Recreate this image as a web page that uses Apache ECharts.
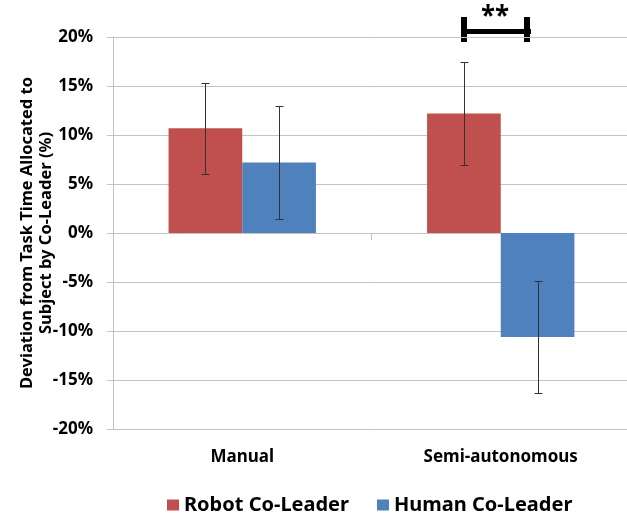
<!DOCTYPE html>
<html>
<head>
<meta charset="utf-8">
<script src="https://cdn.jsdelivr.net/npm/echarts@6/dist/echarts.min.js"></script>
<style>
  html, body { margin: 0; padding: 0; background: #fff; }
  #chart { width: 627px; height: 516px; }
</style>
</head>
<body>
<div id="chart"></div>
<script>
// Conditions and group names
const categories = ['Manual', 'Semi-autonomous'];
const seriesNames = ['Robot Co-Leader', 'Human Co-Leader'];

// Mean deviation (%) and standard error (%) per condition
const robotMean = [10.7, 12.2];
const humanMean = [7.2, -10.6];
const robotErr = [4.65, 5.3];
const humanErr = [5.75, 5.7];

// Value-axis tick range
const yMin = -20, yMax = 20, yStep = 5;

const FONT = 'Noto Sans';
const gridColor = '#c3c3c3';
const barGapPct = 0.43;

function errorData(means, errs, idx) {
  return means.map((m, i) => [i, m, errs[i], idx]);
}

function renderError(params, api) {
  const cat = api.value(0), mean = api.value(1), err = api.value(2), s = api.value(3);
  const band = api.size([1, 0])[0];
  const barW = band * (1 - barGapPct) / 2;
  const c = api.coord([cat, mean]);
  const x = Math.round(c[0] + (s === 0 ? -barW / 2 : barW / 2)) + 0.5;
  const yTop = Math.round(api.coord([cat, mean + err])[1]) + 0.5;
  const yBot = Math.round(api.coord([cat, mean - err])[1]) + 0.5;
  const cap = 4;
  const style = { stroke: '#333', lineWidth: 1 };
  return {
    type: 'group',
    children: [
      { type: 'line', shape: { x1: x, y1: yTop, x2: x, y2: yBot }, style },
      { type: 'line', shape: { x1: x - cap, y1: yTop, x2: x + cap, y2: yTop }, style },
      { type: 'line', shape: { x1: x - cap, y1: yBot, x2: x + cap, y2: yBot }, style }
    ]
  };
}

const chart = echarts.init(document.getElementById('chart'), null, { renderer: 'canvas' });

chart.setOption({
  animation: false,
  backgroundColor: '#fff',
  textStyle: { fontFamily: FONT },
  grid: { left: 113, top: 37, width: 517, height: 392, containLabel: false, outerBoundsMode: 'none' },
  legend: {
    top: 490,
    left: 162,
    icon: 'rect',
    itemWidth: 12,
    itemHeight: 11,
    itemGap: 28,
    textStyle: { fontFamily: FONT, fontWeight: 'bold', fontSize: 20, color: '#000' },
    data: seriesNames
  },
  xAxis: [
    {
      // axis line drawn at zero with separators between categories
      type: 'category',
      data: categories,
      axisLine: { onZero: true, lineStyle: { color: gridColor, width: 1 } },
      axisTick: { show: true, length: 7, alignWithLabel: false, lineStyle: { color: gridColor } },
      axisLabel: { show: false },
      splitLine: { show: false }
    },
    {
      // category labels along the bottom of the plot
      type: 'category',
      data: categories,
      position: 'bottom',
      axisLine: { show: false, onZero: false },
      axisTick: { show: false },
      axisLabel: { show: true, margin: 20, fontFamily: FONT, fontWeight: 'bold', fontSize: 17, color: '#000' }
    }
  ],
  yAxis: {
    type: 'value',
    min: yMin,
    max: yMax,
    interval: yStep,
    name: 'Deviation from Task Time Allocated to\nSubject by Co-Leader (%)',
    nameLocation: 'middle',
    nameRotate: 90,
    nameGap: 57,
    nameMoveOverlap: false,
    nameTextStyle: { fontFamily: FONT, fontWeight: 'bold', fontSize: 16.5, color: '#000', lineHeight: 19, align: 'center' },
    axisLine: { show: true, lineStyle: { color: gridColor, width: 1 } },
    axisTick: { show: true, length: 6, lineStyle: { color: gridColor } },
    axisLabel: {
      margin: 20,
      fontFamily: FONT, fontWeight: 'bold', fontSize: 17, color: '#000',
      formatter: v => v + '%'
    },
    splitLine: { show: true, lineStyle: { color: gridColor, width: 1 } }
  },
  series: [
    {
      name: seriesNames[0],
      type: 'bar',
      data: robotMean,
      barGap: '0%',
      barCategoryGap: (barGapPct * 100) + '%',
      itemStyle: { color: '#C0504D' }
    },
    {
      name: seriesNames[1],
      type: 'bar',
      data: humanMean,
      barGap: '0%',
      barCategoryGap: (barGapPct * 100) + '%',
      itemStyle: { color: '#4F81BD' }
    },
    {
      type: 'custom',
      renderItem: renderError,
      data: errorData(robotMean, robotErr, 0).concat(errorData(humanMean, humanErr, 1)),
      encode: { x: 0, y: 1 },
      z: 10,
      silent: true
    }
  ],
  graphic: [
    // significance bracket over the semi-autonomous pair
    {
      type: 'group',
      children: [
        { type: 'rect', shape: { x: 461, y: 29, width: 70, height: 5 }, style: { fill: '#000' } },
        { type: 'rect', shape: { x: 461, y: 17, width: 6, height: 25 }, style: { fill: '#000' } },
        { type: 'rect', shape: { x: 524, y: 17, width: 6, height: 25 }, style: { fill: '#000' } },
        { type: 'text', x: 495, y: 18, style: { text: '**', font: 'bold 26px "Noto Sans"', fill: '#000', align: 'center', verticalAlign: 'middle' } }
      ]
    }
  ]
});
</script>
</body>
</html>
